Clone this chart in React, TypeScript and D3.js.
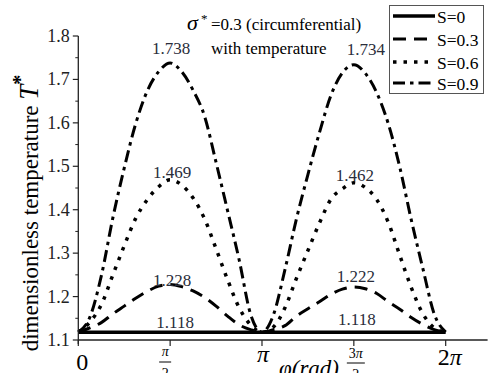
import React from 'react';
import * as d3 from 'd3';

// φ in units of π
const PHI_OVER_PI = [
  0, 0.0625, 0.125, 0.1875, 0.25, 0.3125, 0.375, 0.4375, 0.5, 0.5625, 0.625, 0.6875, 0.75, 0.8125, 0.875, 0.9375, 1,
  1.0625, 1.125, 1.1875, 1.25, 1.3125, 1.375, 1.4375, 1.5, 1.5625, 1.625, 1.6875, 1.75, 1.8125, 1.875, 1.9375, 2,
];

const S0_VALUES = [
  1.118, 1.118, 1.118, 1.118, 1.118, 1.118, 1.118, 1.118, 1.118, 1.118, 1.118, 1.118, 1.118, 1.118, 1.118, 1.118, 1.118,
  1.118, 1.118, 1.118, 1.118, 1.118, 1.118, 1.118, 1.118, 1.118, 1.118, 1.118, 1.118, 1.118, 1.118, 1.118, 1.118,
];
const S03_VALUES = [
  1.118, 1.128, 1.140, 1.160, 1.178, 1.196, 1.212, 1.224, 1.228, 1.223, 1.213, 1.198, 1.178, 1.155, 1.135, 1.124, 1.118,
  1.124, 1.133, 1.155, 1.172, 1.188, 1.205, 1.217, 1.222, 1.218, 1.207, 1.188, 1.171, 1.152, 1.136, 1.124, 1.118,
];
const S06_VALUES = [
  1.118, 1.141, 1.181, 1.249, 1.317, 1.380, 1.423, 1.453, 1.469, 1.457, 1.427, 1.379, 1.310, 1.239, 1.175, 1.135, 1.118,
  1.130, 1.174, 1.242, 1.306, 1.369, 1.424, 1.448, 1.462, 1.451, 1.423, 1.371, 1.295, 1.221, 1.161, 1.128, 1.118,
];
const S09_VALUES = [
  1.118, 1.152, 1.247, 1.380, 1.496, 1.598, 1.673, 1.718, 1.738, 1.718, 1.675, 1.615, 1.509, 1.398, 1.286, 1.160, 1.118,
  1.158, 1.262, 1.379, 1.481, 1.577, 1.663, 1.715, 1.734, 1.714, 1.669, 1.598, 1.498, 1.377, 1.266, 1.160, 1.118,
];

const SERIES_NAMES = ['S=0', 'S=0.3', 'S=0.6', 'S=0.9'];
const Y_TICKS = [1.1, 1.2, 1.3, 1.4, 1.5, 1.6, 1.7, 1.8];
const X_TICKS_OVER_PI = [0, 0.5, 1, 1.5, 2];

const PEAK_PHI_OVER_PI = [0.5, 1.5, 0.5, 1.5, 0.5, 1.5, 0.5, 1.5];
const PEAK_VALUES = [1.738, 1.734, 1.469, 1.462, 1.228, 1.222, 1.118, 1.118];
const PEAK_TEXTS = ['1.738', '1.734', '1.469', '1.462', '1.228', '1.222', '1.118', '1.118'];

// label nudges (layout, px)
const PEAK_DX = [1, 12, 2, 1, 2, 2, 5, 3];
const PEAK_DY = [-9, -9.5, -2, -2, 1.5, -5, -4.5, -7.5];

const SERIES_STYLES = [
  { dash: null, width: 3.5 },
  { dash: '13 8', width: 3 },
  { dash: '3.5 7', width: 3.5 },
  { dash: '12 5 3.5 5', width: 3 },
];

const SERIF = '"Liberation Serif", "DejaVu Serif", serif';

export default function App() {
  const x = d3.scaleLinear().domain([0, 7.0]).range([78.3, 487.6]);
  const y = d3.scaleLinear().domain([1.1, 1.8]).range([340, 36]);
  const phi = PHI_OVER_PI.map((p) => p * Math.PI);
  const allValues = [S0_VALUES, S03_VALUES, S06_VALUES, S09_VALUES];

  const line = d3
    .line<[number, number]>()
    .x((d) => x(d[0]))
    .y((d) => y(d[1]))
    .curve(d3.curveMonotoneX);

  const minorTicks = d3.range(0, Y_TICKS.length - 1).map((i) => (Y_TICKS[i] + Y_TICKS[i + 1]) / 2);
  const x0 = x(0);

  const legendRows = [16, 39, 62, 83];

  return (
    <svg
      width={496}
      height={373}
      style={{ position: 'absolute', left: 0, top: 0, background: '#fff', fontFamily: SERIF }}
    >
      <rect x={0} y={0} width={496} height={373} fill="#fff" />

      {/* series */}
      {allValues.map((vals, i) => (
        <path
          key={i}
          d={line(phi.map((p, j) => [p, vals[j]]) as [number, number][]) || ''}
          fill="none"
          stroke="#000"
          strokeWidth={SERIES_STYLES[i].width}
          strokeDasharray={SERIES_STYLES[i].dash || undefined}
        />
      ))}

      {/* axes */}
      <line x1={x0} x2={x0} y1={y(1.8)} y2={y(1.1) + 4} stroke="#222" strokeWidth={1.3} />
      <line x1={x0} x2={x(7)} y1={y(1.1)} y2={y(1.1)} stroke="#222" strokeWidth={1.3} />
      {Y_TICKS.map((t) => (
        <g key={t}>
          <line x1={x0 - 5.5} x2={x0} y1={y(t)} y2={y(t)} stroke="#222" strokeWidth={1.2} />
          <text x={x0 - 8.5} y={y(t) + 6} fontSize={18} textAnchor="end" fill="#222">
            {t.toFixed(1)}
          </text>
        </g>
      ))}
      {minorTicks.map((t) => (
        <line key={t} x1={x0 - 3} x2={x0} y1={y(t)} y2={y(t)} stroke="#222" strokeWidth={1} />
      ))}
      {X_TICKS_OVER_PI.map((t) => (
        <line key={t} x1={x(t * Math.PI)} x2={x(t * Math.PI)} y1={y(1.1)} y2={y(1.1) + 6} stroke="#222" strokeWidth={1.2} />
      ))}

      {/* x tick labels */}
      <text x={x(0) + 4} y={370} fontSize={24} textAnchor="middle">0</text>
      <g transform={`translate(${x(Math.PI / 2) - 5},0)`}>
        <text x={0} y={356} fontSize={14} fontStyle="italic" textAnchor="middle">π</text>
        <line x1={-6} x2={6} y1={362} y2={362} stroke="#000" strokeWidth={1} />
        <text x={0} y={378} fontSize={14} textAnchor="middle">2</text>
      </g>
      <text x={x(Math.PI) + 1} y={362} fontSize={24} fontStyle="italic" textAnchor="middle">π</text>
      <g transform={`translate(${x(1.5 * Math.PI) + 2},0)`}>
        <text x={0} y={358} fontSize={14} textAnchor="middle">
          3<tspan fontStyle="italic">π</tspan>
        </text>
        <line x1={-9} x2={9} y1={363} y2={363} stroke="#000" strokeWidth={1} />
        <text x={0} y={379} fontSize={14} textAnchor="middle">2</text>
      </g>
      <text x={x(2 * Math.PI) + 4} y={365} fontSize={24} textAnchor="middle">
        2<tspan fontStyle="italic">π</tspan>
      </text>
      <text x={309} y={376} fontSize={23} fontStyle="italic" textAnchor="middle">φ(rad)</text>

      {/* y axis title */}
      <g transform="translate(38,213) rotate(-90)">
        <text x={0} y={0} fontSize={23} textAnchor="middle">
          dimensionless temperature{' '}
          <tspan fontStyle="italic" fontSize={27}>T</tspan>
          <tspan fontSize={20} fontWeight="bold" dy={-11}>*</tspan>
        </text>
      </g>

      {/* annotation */}
      <text x={187} y={30} fontSize={22} fontStyle="italic">σ</text>
      <text x={201} y={23} fontSize={13}>*</text>
      <text x={211} y={30} fontSize={17}>=0.3 (circumferential)</text>
      <text x={211} y={54} fontSize={17}>with temperature</text>

      {/* peak labels */}
      {PEAK_TEXTS.map((t, i) => (
        <text
          key={i}
          x={x(PEAK_PHI_OVER_PI[i] * Math.PI) + PEAK_DX[i]}
          y={y(PEAK_VALUES[i]) + PEAK_DY[i]}
          fontSize={17}
          textAnchor="middle"
          fill="#2a2d3a"
        >
          {t}
        </text>
      ))}

      {/* legend */}
      <rect x={389.5} y={5.5} width={94} height={88} fill="#fff" stroke="#555" strokeWidth={1} />
      {SERIES_NAMES.map((n, i) => (
        <g key={n}>
          <line
            x1={393}
            x2={435}
            y1={legendRows[i]}
            y2={legendRows[i]}
            stroke="#000"
            strokeWidth={SERIES_STYLES[i].width}
            strokeDasharray={SERIES_STYLES[i].dash || undefined}
          />
          <text x={437} y={legendRows[i] + 6.5} fontSize={17.5}>
            {n}
          </text>
        </g>
      ))}
    </svg>
  );
}
